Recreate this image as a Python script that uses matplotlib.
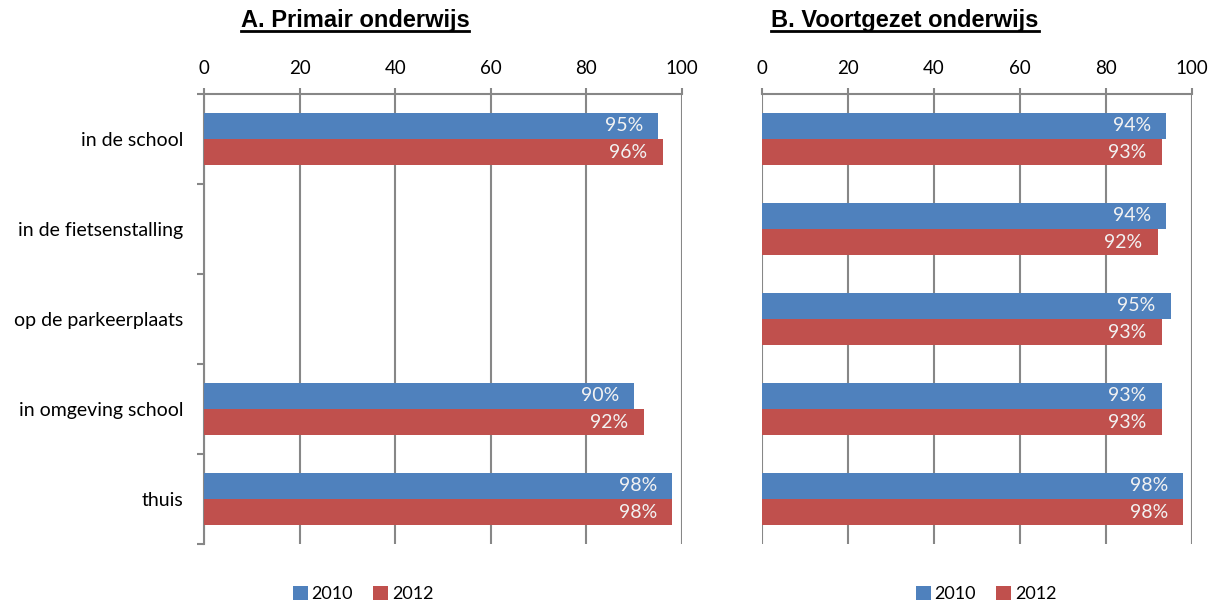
import matplotlib
matplotlib.use("Agg")
import matplotlib.pyplot as plt
from matplotlib.lines import Line2D
from matplotlib.patches import Patch
from matplotlib.ticker import FixedLocator
import numpy as np

categories = ["in de school", "in de fietsenstalling", "op de parkeerplaats",
              "in omgeving school", "thuis"]
series_names = ["2010", "2012"]
primair_2010 = [95, None, None, 90, 98]
primair_2012 = [96, None, None, 92, 98]
voortgezet_2010 = [94, 94, 95, 93, 98]
voortgezet_2012 = [93, 92, 93, 93, 98]
xticks = [0, 20, 40, 60, 80, 100]
titles = ["A. Primair onderwijs", "B. Voortgezet onderwijs"]

BLUE = "#4F81BD"
RED = "#C0504D"
GRID = "#878787"
W, H = 1217, 603
fig = plt.figure(figsize=(W / 100, H / 100), dpi=100)

FONT = "Lato"
axes_px = [(204, 682), (762, 1192)]
top_px, bot_px = 94, 544
data = [(primair_2010, primair_2012), (voortgezet_2010, voortgezet_2012)]
bar_h = 0.29
axs = []
for k, ((x0, x1), (s1, s2)) in enumerate(zip(axes_px, data)):
    ax = fig.add_axes([x0 / W, 1 - bot_px / H, (x1 - x0) / W, (bot_px - top_px) / H])
    axs.append(ax)
    y = np.arange(len(categories))
    for vals, off, col in ((s1, -bar_h / 2, BLUE), (s2, bar_h / 2, RED)):
        for i, v in enumerate(vals):
            if v is None:
                continue
            ax.barh(y[i] + off, v, height=bar_h, color=col, zorder=3)
            ax.annotate(f"{v}%", xy=(v, y[i] + off), xytext=(-11, 0),
                        textcoords="offset points", ha="right", va="center",
                        color="#F2F2F2", fontsize=14, family=FONT, zorder=4)
    ax.set_xlim(0, 100)
    ax.set_ylim(len(categories) - 0.5, -0.5)
    ax.xaxis.set_ticks_position("top")
    ax.set_xticks(xticks)
    ax.tick_params(axis="x", direction="out", length=4, width=1.5, color=GRID,
                   labelsize=13.5, pad=8)
    for lab in ax.get_xticklabels():
        lab.set_family(FONT)
    ax.grid(axis="x", color=GRID, lw=1.5, zorder=1)
    for s in ["right", "bottom"]:
        ax.spines[s].set_visible(False)
    ax.spines["top"].set_color(GRID)
    ax.spines["top"].set_linewidth(1.5)
    ax.spines["left"].set_color(GRID)
    ax.spines["left"].set_linewidth(1.5)
    if k == 0:
        ax.set_yticks(y)
        ax.set_yticklabels(categories, family=FONT, fontsize=14)
        ax.yaxis.set_minor_locator(FixedLocator(np.arange(-0.5, len(categories), 1.0)))
        ax.tick_params(axis="y", which="major", length=0, pad=15)
        ax.tick_params(axis="y", which="minor", direction="out", length=5,
                       width=1.5, color=GRID)
    else:
        ax.spines["left"].set_visible(False)
        ax.set_yticks([])
    handles = [Patch(facecolor=BLUE, label=series_names[0]),
               Patch(facecolor=RED, label=series_names[1])]
    cx = [363, 986][k]
    ax.legend(handles=handles, loc="center", ncol=2, frameon=False,
              bbox_to_anchor=(cx / W, 1 - 594 / H), bbox_transform=fig.transFigure,
              prop={"family": FONT, "size": 13}, handlelength=0.85,
              handleheight=0.85, handletextpad=0.2, columnspacing=1.1,
              borderaxespad=0)

# titles with underline
title_cx = [355, 905]
fig.canvas.draw()
renderer = fig.canvas.get_renderer()
for t, cx in zip(titles, title_cx):
    txt = fig.text(cx / W, 1 - 20 / H, t, ha="center", va="center",
                   family="Liberation Sans", weight="bold", fontsize=17)
    bb = txt.get_window_extent(renderer=renderer)
    yline = bb.y0 + 0.5
    fig.add_artist(Line2D([bb.x0 / W, bb.x1 / W], [yline / H, yline / H],
                          transform=fig.transFigure, color="black", lw=2))

fig.savefig("out.png", dpi=100)
